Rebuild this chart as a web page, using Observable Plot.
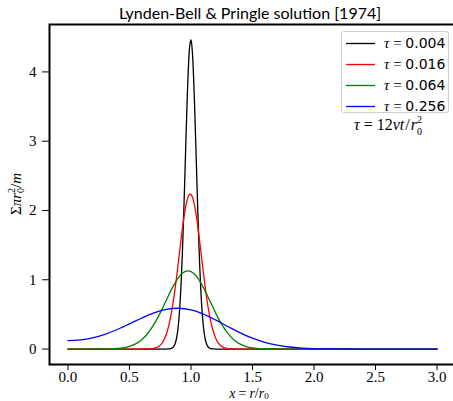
<!DOCTYPE html>
<html><head><meta charset="utf-8">
<script src="https://cdn.jsdelivr.net/npm/d3@7"></script>
<script src="https://cdn.jsdelivr.net/npm/@observablehq/plot@0.6"></script>
<style>
html,body{margin:0;padding:0;background:#fff;overflow:hidden;}
#wrap{position:relative;width:453px;height:401px;overflow:hidden;}
#title{position:absolute;top:5px;left:250px;transform:translateX(-50%);white-space:nowrap;font-family:"Lato",sans-serif;font-size:16px;line-height:16px;color:#000;}
#legend{position:absolute;left:341px;top:31px;width:108px;height:82px;border:1px solid #d0d0d0;border-radius:3px;background:rgba(255,255,255,0.85);box-sizing:border-box;}
.row{position:absolute;left:0;height:20px;width:108px;}
.sw{position:absolute;left:4px;top:0;width:29px;height:20px;}
.lt{position:absolute;left:42px;top:2px;font-size:15px;line-height:16px;white-space:nowrap;font-family:"Liberation Serif",serif;}
.lt i{font-family:"Liberation Serif",serif;}
.lt .n{font-family:"DejaVu Sans",sans-serif;font-size:14px;}
</style></head>
<body><div id="wrap"></div>
<script>
// ---- data ----
const tauLabels = ["0.004", "0.016", "0.064", "0.256"];
const lineColors = ["black", "red", "green", "blue"];
const xTicks = [0, 0.5, 1, 1.5, 2, 2.5, 3];
const yTicks = [0, 1, 2, 3, 4];

const xTau004 = [0, 0.78, 0.82, 0.83, 0.84, 0.85, 0.86, 0.87, 0.88, 0.89, 0.90, 0.91, 0.92, 0.93, 0.94, 0.95, 0.96, 0.97, 0.98, 0.99, 1.00, 1.01, 1.02, 1.03, 1.04, 1.05, 1.06, 1.07, 1.08, 1.09, 1.10, 1.11, 1.12, 1.13, 1.14, 1.15, 1.16, 1.17, 1.18, 1.22, 3.0];
const yTau004 = [0, 0, 0.0016, 0.0037, 0.0085, 0.0182, 0.0372, 0.0724, 0.1341, 0.2363, 0.3962, 0.6319, 0.9586, 1.3834, 1.8996, 2.4810, 3.0828, 3.6440, 4.0976, 4.3832, 4.4612, 4.3178, 3.9764, 3.4835, 2.9032, 2.3016, 1.7359, 1.2454, 0.8500, 0.5519, 0.3409, 0.2002, 0.1119, 0.0595, 0.0301, 0.0145, 0.0066, 0.0029, 0.0012, 0, 0];

const xTau016 = [0, 0.5, 0.6, 0.62, 0.64, 0.66, 0.68, 0.70, 0.72, 0.74, 0.76, 0.78, 0.80, 0.82, 0.84, 0.86, 0.88, 0.90, 0.92, 0.94, 0.96, 0.98, 0.99, 1.00, 1.01, 1.02, 1.04, 1.06, 1.08, 1.10, 1.12, 1.14, 1.16, 1.18, 1.20, 1.22, 1.24, 1.26, 1.28, 1.30, 1.32, 1.34, 1.36, 1.38, 1.40, 1.5, 3.0];
const yTau016 = [0, 0, 0.0001, 0.0004, 0.0009, 0.0022, 0.0049, 0.0105, 0.0213, 0.0409, 0.0749, 0.1305, 0.2166, 0.3419, 0.5136, 0.7342, 0.9988, 1.2929, 1.5927, 1.8669, 2.0825, 2.2102, 2.2349, 2.2320, 2.2016, 2.1448, 1.9611, 1.7061, 1.4122, 1.1123, 0.8335, 0.5943, 0.4032, 0.2602, 0.1598, 0.0933, 0.0519, 0.0274, 0.0138, 0.0066, 0.0030, 0.0013, 0.0005, 0.0002, 0.0001, 0, 0];

const xTau064 = [0, 0.1, 0.2, 0.25, 0.3, 0.35, 0.4, 0.45, 0.5, 0.55, 0.6, 0.65, 0.7, 0.75, 0.8, 0.85, 0.9, 0.925, 0.95, 0.975, 1.0, 1.025, 1.05, 1.1, 1.15, 1.2, 1.25, 1.3, 1.35, 1.4, 1.45, 1.5, 1.55, 1.6, 1.65, 1.7, 1.75, 1.8, 2.0, 3.0];
const yTau064 = [0, 0, 0.0002, 0.0005, 0.0013, 0.0034, 0.0081, 0.0181, 0.0379, 0.0742, 0.1349, 0.2282, 0.3586, 0.5231, 0.7082, 0.8894, 1.0356, 1.0863, 1.1180, 1.1289, 1.1184, 1.0872, 1.0368, 0.8904, 0.7083, 0.5219, 0.3561, 0.2250, 0.1316, 0.0713, 0.0357, 0.0166, 0.0071, 0.0028, 0.0010, 0.0004, 0.0001, 0, 0, 0];

const xTau256 = [0, 0.1, 0.2, 0.3, 0.4, 0.5, 0.6, 0.7, 0.8, 0.9, 1.0, 1.1, 1.2, 1.3, 1.4, 1.5, 1.6, 1.7, 1.8, 1.9, 2.0, 2.1, 2.2, 2.3, 2.4, 2.5, 2.6, 2.7, 2.8, 2.9, 3.0];
const yTau256 = [0.1219, 0.1320, 0.1625, 0.2131, 0.2818, 0.3633, 0.4478, 0.5224, 0.5728, 0.5885, 0.5646, 0.5049, 0.4203, 0.3253, 0.2340, 0.1562, 0.0968, 0.0556, 0.0297, 0.0147, 0.0067, 0.0029, 0.0011, 0.0004, 0.0001, 0, 0, 0, 0, 0, 0];

const seriesX = [xTau004, xTau016, xTau064, xTau256];
const seriesY = [yTau004, yTau016, yTau064, yTau256];

// ---- tidy table ----
const data = seriesX.flatMap((xs, i) => xs.map((x, j) => ({x, y: seriesY[i][j], tau: tauLabels[i]})));

const xPad = 0.05 * (d3.max(xTicks) - d3.min(xTicks));
const xDomain = [d3.min(xTicks) - xPad, d3.max(xTicks) + xPad];
const yMax = d3.max(data, d => d.y);
const yPad = 0.05 * yMax;
const yDomain = [-yPad, yMax + yPad];

const plot = Plot.plot({
  width: 453, height: 401,
  marginTop: 24, marginBottom: 37, marginLeft: 49, marginRight: -2,
  style: {fontFamily: "'Liberation Serif', serif", fontSize: "15px", background: "transparent", overflow: "hidden", color: "black"},
  x: {domain: xDomain, ticks: xTicks, tickFormat: d3.format(".1f"), label: null, tickSize: 6, tickPadding: 1},
  y: {domain: yDomain, ticks: yTicks, tickFormat: d => String(d), label: null, tickSize: 7, tickPadding: 6},
  color: {domain: tauLabels, range: lineColors},
  marks: [
    Plot.line(data, {x: "x", y: "y", z: "tau", stroke: "tau", strokeWidth: 1.3, curve: "catmull-rom"}),
    Plot.frame({stroke: "black", strokeWidth: 2})
  ]
});
const wrap = document.getElementById("wrap");
wrap.appendChild(plot);

// axis labels & annotation as svg text
const svg = d3.select(plot);
function addText(x, y, parts, opts = {}) {
  const t = svg.append("text").attr("x", x).attr("y", y)
    .attr("font-family", "'Liberation Serif', serif").attr("font-size", opts.size || 15).attr("fill", "black")
    .attr("text-anchor", opts.anchor || "start");
  if (opts.rotate) t.attr("transform", `rotate(-90 ${x} ${y})`);
  for (const p of parts) {
    const s = t.append("tspan").text(p.t);
    if (p.i) s.attr("font-style", "italic");
    if (p.size) s.attr("font-size", p.size);
    if (p.dx != null) s.attr("dx", p.dx);
    if (p.dy != null) s.attr("dy", p.dy);
  }
  return t;
}
// y label
addText(21, 194, [
  {t: "Σ"}, {t: "π", i: 1}, {t: "r", i: 1},
  {t: "2", size: 10, dy: -6}, {t: "0", size: 10, dx: -5, dy: 9}, {t: "/", dy: -3}, {t: "m", i: 1}
], {anchor: "middle", rotate: true});
// x label
addText(249, 397.5, [
  {t: "x", i: 1}, {t: "=", dx: 3}, {t: "r", i: 1, dx: 3}, {t: "/"}, {t: "r", i: 1}, {t: "0", size: 9, dy: 1}
], {anchor: "middle", size: 14});
// annotation
addText(354, 130, [
  {t: "τ", i: 1}, {t: "=", dx: 4}, {t: "12", dx: 4}, {t: "νt", i: 1}, {t: "/", dx: 1}, {t: "r", i: 1, dx: 1},
  {t: "2", size: 10, dy: -7}, {t: "0", size: 10, dx: -5, dy: 12}
], {size: 16});

// title
const title = document.createElement("div");
title.id = "title";
title.textContent = "Lynden-Bell & Pringle solution [1974]";
wrap.appendChild(title);

// legend
const legend = document.createElement("div");
legend.id = "legend";
const rowTops = [1, 22, 43, 64];
tauLabels.forEach((lab, i) => {
  const row = document.createElement("div");
  row.className = "row";
  row.style.top = rowTops[i] + "px";
  row.innerHTML = `<svg class="sw" width="29" height="20"><line x1="0" x2="29" y1="10.5" y2="10.5" stroke="${lineColors[i]}" stroke-width="1.3"/></svg><div class="lt"><i>τ</i> = <span class="n">${lab}</span></div>`;
  legend.appendChild(row);
});
wrap.appendChild(legend);
</script>
</body></html>
